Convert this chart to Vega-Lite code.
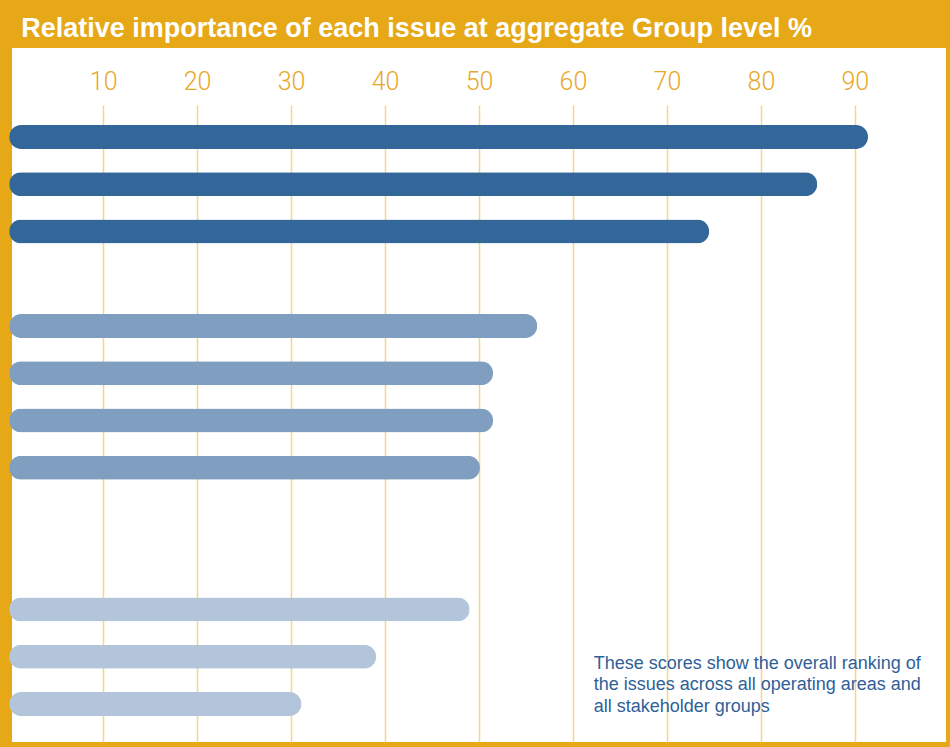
{
  "$schema": "https://vega.github.io/schema/vega-lite/v6.json",
  "background": "#E6A817",
  "padding": {"left": 9, "top": 15, "right": 7, "bottom": 5},
  "title": {
    "text": "Relative importance of each issue at aggregate Group level %",
    "anchor": "start",
    "frame": "bounds",
    "dx": 12,
    "offset": 5,
    "baseline": "top",
    "font": "Liberation Sans",
    "fontSize": 27,
    "fontWeight": "bold",
    "color": "#FFFFFF"
  },
  "datasets": {
    "bars": [
      {"issue": "Issue 1", "value": 91.4, "group": "High"},
      {"issue": "Issue 2", "value": 86.0, "group": "High"},
      {"issue": "Issue 3", "value": 74.5, "group": "High"},
      {"issue": "Issue 4", "value": 56.2, "group": "Medium"},
      {"issue": "Issue 5", "value": 51.5, "group": "Medium"},
      {"issue": "Issue 6", "value": 51.5, "group": "Medium"},
      {"issue": "Issue 7", "value": 50.1, "group": "Medium"},
      {"issue": "Issue 8", "value": 49.0, "group": "Low"},
      {"issue": "Issue 9", "value": 39.05, "group": "Low"},
      {"issue": "Issue 10", "value": 31.1, "group": "Low"}
    ],
    "note": [
      {"text": ["These scores show the overall ranking of", "the issues across all operating areas and", "all stakeholder groups"]}
    ]
  },
  "spacing": 0,
  "vconcat": [
    {
      "width": 934,
      "height": 57,
      "data": {"name": "bars"},
      "mark": {"type": "point", "opacity": 0},
      "encoding": {
        "x": {
          "field": "value",
          "type": "quantitative",
          "scale": {"domain": [0.3, 99.7], "nice": false, "zero": false},
          "axis": {
            "orient": "bottom",
            "values": [10, 20, 30, 40, 50, 60, 70, 80, 90],
            "domain": false,
            "ticks": false,
            "grid": false,
            "labelFlush": false,
            "labelPadding": -36,
            "labelFont": "Roboto",
            "labelFontWeight": 300,
            "labelFontSize": 25,
            "labelColor": "#E7A829",
            "title": null
          }
        }
      }
    },
    {
      "width": 934,
      "height": 637,
      "layer": [
        {
          "data": {"name": "bars"},
          "mark": {"type": "bar", "size": 24, "cornerRadius": 12},
          "encoding": {
            "y": {
              "field": "issue",
              "type": "nominal",
              "sort": null,
              "scale": {
                "domain": ["Issue 1", "Issue 2", "Issue 3", "gap 1", "Issue 4", "Issue 5", "Issue 6", "Issue 7", "gap 2", "gap 3", "Issue 8", "Issue 9", "Issue 10"],
                "paddingInner": 0,
                "paddingOuter": 0.24,
                "align": 0.37
              },
              "axis": null
            },
            "x": {
              "field": "value",
              "type": "quantitative",
              "scale": {"domain": [0.3, 99.7], "nice": false, "zero": false},
              "axis": {
                "orient": "top",
                "values": [10, 20, 30, 40, 50, 60, 70, 80, 90],
                "domain": false,
                "ticks": false,
                "labels": false,
                "grid": true,
                "gridColor": "#F7D48A",
                "gridWidth": 1.5,
                "title": null
              }
            },
            "color": {
              "field": "group",
              "type": "nominal",
              "scale": {"domain": ["High", "Medium", "Low"], "range": ["#336699", "#809FC0", "#B2C5DA"]},
              "legend": null
            }
          }
        },
        {
          "data": {"name": "note"},
          "mark": {
            "type": "text",
            "align": "left",
            "baseline": "alphabetic",
            "dy": 12,
            "font": "Liberation Sans",
            "fontSize": 18,
            "lineHeight": 21.5,
            "color": "#2F5F98"
          },
          "encoding": {
            "x": {"datum": 62.2, "type": "quantitative"},
            "y": {"datum": "Issue 9", "type": "nominal"},
            "text": {"field": "text"}
          }
        }
      ]
    }
  ],
  "config": {
    "view": {"fill": "#FFFFFF", "stroke": null},
    "concat": {"spacing": 0}
  }
}
